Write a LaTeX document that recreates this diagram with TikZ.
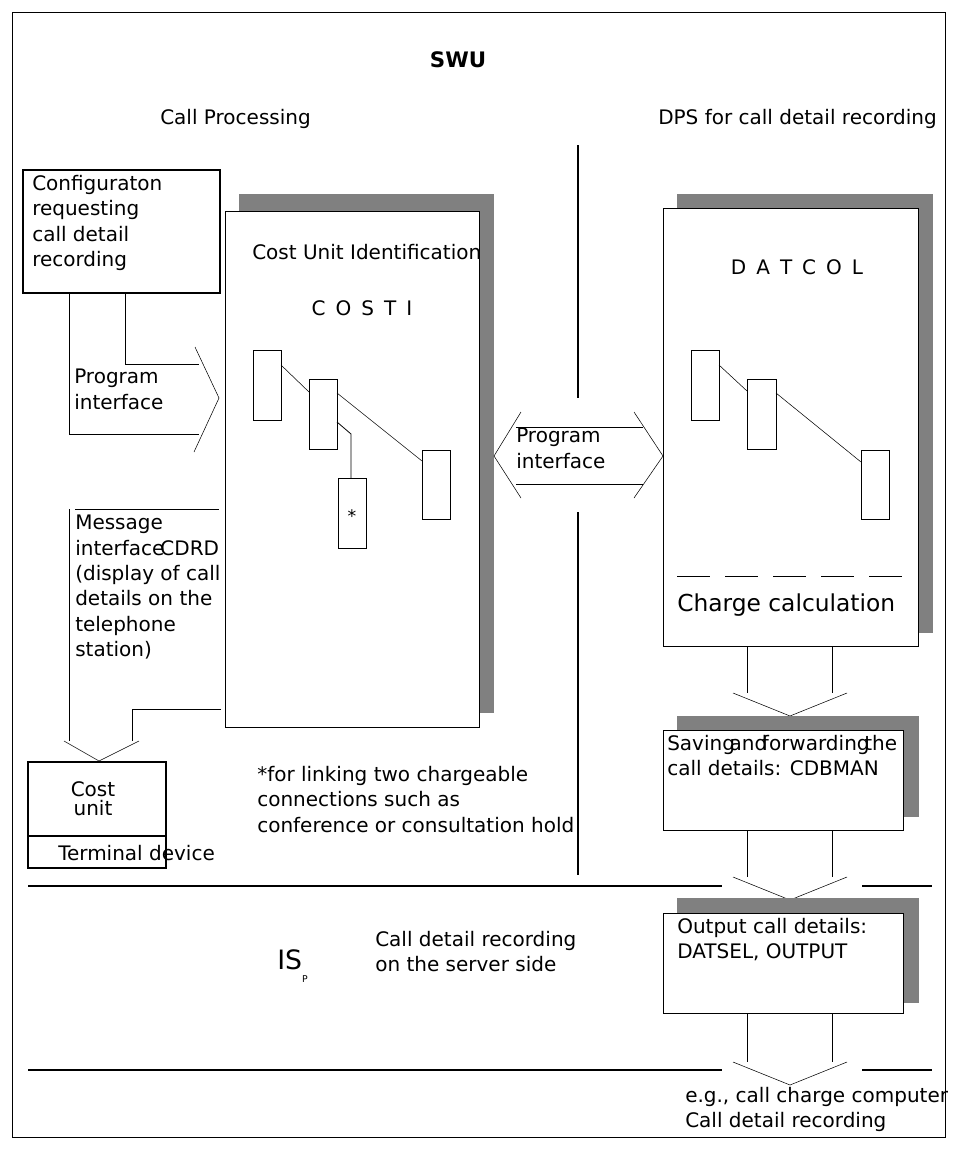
\documentclass[tikz,border=0pt]{standalone}
\usepackage{fontspec}
\setmainfont{DejaVu Sans}
\begin{document}
\begin{tikzpicture}[x=0.75pt,y=-0.75pt,
  t/.style={anchor=west,inner sep=0pt,font=\fontsize{15}{19}\selectfont,align=left},
  shadow/.style={fill=black!50,draw=black!50},
  box/.style={fill=white,draw=black,line width=0.6pt},
  sm/.style={fill=white,draw=black,line width=0.6pt},
  ln/.style={line width=0.6pt},
  thin/.style={line width=0.4pt}]
\useasboundingbox (0,0) rectangle (957,1154);
\clip (0,0) rectangle (957,1154);
\draw[thin] (12,12) rectangle (945,1137);
\node[font=\bfseries\fontsize{16}{18}\selectfont] (swu) at (458,60) {SWU};
\node[t] (cp) at (160,119) {Call Processing};
\node[t] (dps) at (658,119) {DPS for call detail recording};
\draw[line width=1pt] (578,145) -- (578,398);
\draw[line width=1pt] (578,512) -- (578,875);
% config
\draw[line width=1pt] (23,170) rectangle (220,293);
\node[t,anchor=north west] (cfg) at (32,175) {Configuraton\\requesting\\call detail\\recording};
% COSTI
\fill[shadow] (239,194) rectangle (493,712);
\draw[box] (225,211) rectangle (479,727);
\node[t] (cui) at (252,252) {Cost Unit Identification};
\node[font=\fontsize{15}{16}\selectfont] (costi) at (362,308) {C\,\,\,O\,\,\,S\,\,\,T\,\,\,I};
\draw[sm] (253,350) rectangle (281,420);
\draw[sm] (309,379) rectangle (337,449);
\draw[sm] (338,478) rectangle (366,548);
\node[font=\fontsize{13}{14}\selectfont] (star) at (352,516) {*};
\draw[sm] (422,450) rectangle (450,519);
\draw[thin] (281,365) -- (309,392);
\draw[thin] (337,393) -- (422,461);
\draw[ln] (337,422) -- (351,434) -- (351,478);
% left program interface
\draw[ln] (69,293) -- (69,434) -- (199,434);
\draw[ln] (125,293) -- (125,364) -- (199,364);
\draw[thin] (195,347) -- (219,398) -- (194,452);
\node[t,anchor=north west] (pi1) at (74,369) {Program\\interface};
% message interface
\draw[ln] (75,509) -- (219,509);
\draw[ln] (69,509) -- (69,741);
\draw[ln] (221,709) -- (132,709) -- (132,741);
\draw[thin] (64,741) -- (99,761) -- (139,741);
\node[t,anchor=north west] (mi) at (75,515) {Message\\interface\hspace{-3pt}CDRD\\(display of call\\details on the\\telephone\\station)};
% cost unit
\draw[line width=1pt] (28,762) rectangle (166,868);
\draw[line width=1pt] (28,836) -- (166,836);
\node[align=center,inner sep=0pt,font=\fontsize{15}{14}\selectfont] (cu) at (93,799) {Cost\\unit};
\node[t,font=\fontsize{15}{17}\selectfont] (td) at (58,853) {Terminal device};
\node[t,anchor=north west] (fn) at (257,766) {*for linking two chargeable\\connections such as\\conference or consultation hold};
% middle double arrow
\draw[ln] (516,427) -- (643,427);
\draw[ln] (516,484) -- (643,484);
\draw[thin] (521,412) -- (494,456) -- (521,498);
\draw[thin] (634,412) -- (663,456) -- (634,498);
\node[t,anchor=north west] (pi2) at (516,428) {Program\\interface};
% DATCOL
\fill[shadow] (677,194) rectangle (932,632);
\draw[box] (663,208) rectangle (918,646);
\node[font=\fontsize{15}{16}\selectfont] (datcol) at (797,267) {D\,\,\,A\,\,\,T\,\,\,C\,\,\,O\,\,\,L};
\draw[sm] (691,350) rectangle (719,420);
\draw[sm] (747,379) rectangle (776,449);
\draw[sm] (861,450) rectangle (889,519);
\draw[thin] (719,365) -- (747,391);
\draw[thin] (776,393) -- (861,462);
\draw[ln,dash pattern=on 25pt off 11pt] (677,576) -- (903,576);
\node[t,font=\fontsize{17.5}{20}\selectfont] (cc) at (677,605) {Charge calculation};
% arrow 1
\draw[ln] (747,646) -- (747,693);
\draw[ln] (832,646) -- (832,693);
\draw[thin] (733,693) -- (790,716) -- (847,693);
% CDBMAN
\fill[shadow] (677,716) rectangle (918,816);
\draw[box] (663,730) rectangle (903,830);
\node[t,anchor=north west] (cdb) at (667,735) {Saving\hspace{-4pt}and\hspace{-4pt}forwarding\hspace{-4pt}the\\call details: CDBMAN};
% arrow 2
\draw[ln] (747,830) -- (747,877);
\draw[ln] (832,830) -- (832,877);
\draw[thin] (733,877) -- (790,900) -- (847,877);
% horizontal lines
\draw[line width=1pt] (28,886) -- (722,886);
\draw[line width=1pt] (862,886) -- (932,886);
\draw[line width=1pt] (28,1070) -- (722,1070);
\draw[line width=1pt] (862,1070) -- (932,1070);
% output
\fill[shadow] (677,898) rectangle (918,1002);
\draw[box] (663,913) rectangle (903,1013);
\node[t,anchor=north west] (out) at (677,918) {Output call details:\\DATSEL, OUTPUT};
% arrow 3
\draw[ln] (747,1013) -- (747,1062);
\draw[ln] (832,1013) -- (832,1062);
\draw[thin] (733,1062) -- (790,1085) -- (847,1062);
\node[t,font=\fontsize{20}{22}\selectfont] (is) at (277,966) {IS\raisebox{-10pt}{\fontsize{7}{7}\selectfont P}};
\node[t,anchor=north west] (srv) at (375,931) {Call detail recording\\on the server side};
\node[t,anchor=north west] (eg) at (685,1087) {e.g., call charge computer\\Call detail recording};
\end{tikzpicture}
\end{document}
